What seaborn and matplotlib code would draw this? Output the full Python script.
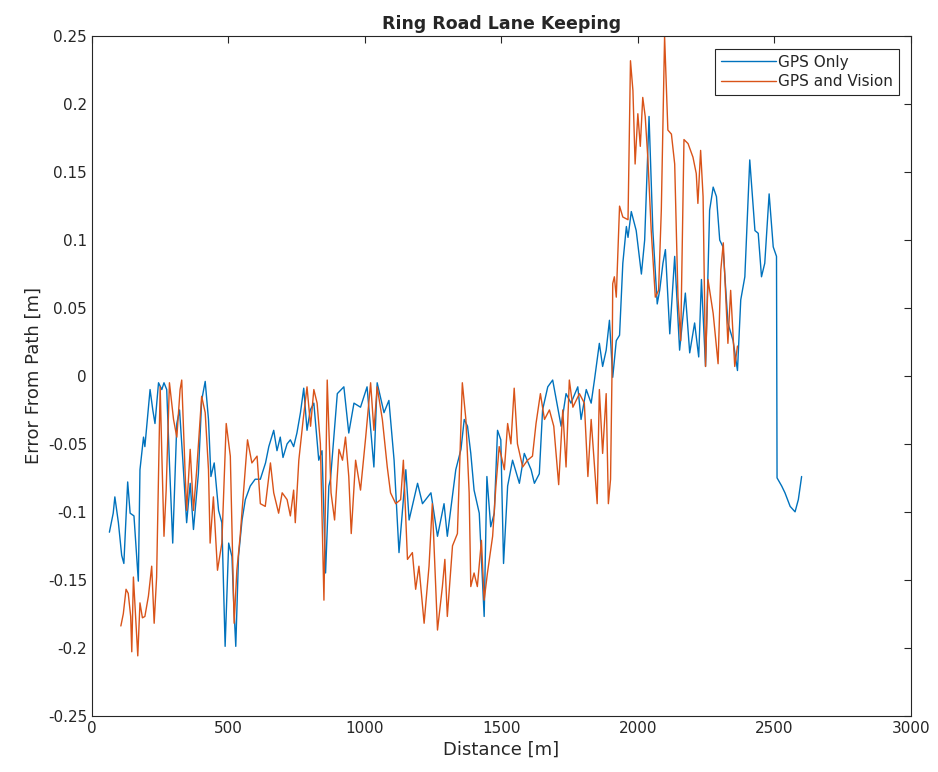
import matplotlib
matplotlib.use("Agg")
from matplotlib import pyplot as plt
import pandas as pd
import numpy as np
import seaborn as sns

# values
gps_x = [64, 78, 84, 97, 109, 117, 131, 140, 154, 170, 176, 189, 194, 213, 223, 231, 244, 256, 264, 274,
         284, 296, 311, 321, 333, 347, 360, 372, 390, 402, 415, 427, 436, 448, 464, 476, 488, 501, 513, 519,
         527, 537, 550, 562, 580, 598, 617, 636, 648, 666, 678, 690, 700, 715, 727, 739, 751, 764, 776, 788,
         800, 813, 831, 843, 856, 868, 874, 899, 923, 941, 960, 984, 1008, 1033, 1045, 1070, 1088, 1107, 1125, 1150,
         1162, 1193, 1211, 1242, 1266, 1290, 1302, 1333, 1352, 1364, 1376, 1388, 1400, 1419, 1437, 1447, 1461, 1474, 1486, 1498,
         1508, 1523, 1541, 1566, 1584, 1609, 1621, 1639, 1651, 1670, 1688, 1706, 1719, 1737, 1755, 1780, 1792, 1811, 1829, 1841,
         1859, 1871, 1884, 1896, 1908, 1921, 1933, 1945, 1958, 1964, 1976, 1994, 2013, 2025, 2041, 2055, 2071, 2080, 2092, 2101,
         2117, 2135, 2153, 2174, 2190, 2208, 2223, 2233, 2248, 2263, 2276, 2288, 2300, 2312, 2330, 2349, 2365, 2377, 2392, 2410,
         2429, 2441, 2453, 2465, 2481, 2496, 2508, 2510, 2527, 2539, 2558, 2576, 2588, 2600]
gps_y = [-0.115, -0.101, -0.089, -0.108, -0.132, -0.138, -0.078, -0.101, -0.103, -0.151, -0.069, -0.045, -0.052, -0.010, -0.025, -0.035, -0.005, -0.010, -0.005, -0.010,
         -0.064, -0.123, -0.035, -0.025, -0.062, -0.108, -0.079, -0.113, -0.072, -0.018, -0.004, -0.032, -0.074, -0.064, -0.099, -0.108, -0.199, -0.123, -0.133, -0.165,
         -0.199, -0.133, -0.106, -0.091, -0.081, -0.076, -0.076, -0.064, -0.052, -0.040, -0.055, -0.045, -0.060, -0.050, -0.047, -0.052, -0.042, -0.027, -0.009, -0.040,
         -0.025, -0.020, -0.062, -0.055, -0.145, -0.081, -0.076, -0.013, -0.008, -0.042, -0.020, -0.023, -0.008, -0.067, -0.005, -0.027, -0.018, -0.062, -0.130, -0.069,
         -0.106, -0.079, -0.094, -0.086, -0.118, -0.094, -0.118, -0.069, -0.054, -0.032, -0.037, -0.057, -0.084, -0.101, -0.177, -0.074, -0.111, -0.101, -0.040, -0.047,
         -0.138, -0.081, -0.062, -0.079, -0.057, -0.069, -0.079, -0.072, -0.025, -0.008, -0.003, -0.023, -0.037, -0.013, -0.020, -0.008, -0.032, -0.010, -0.020, -0.003,
         0.024, 0.007, 0.019, 0.041, -0.001, 0.026, 0.030, 0.083, 0.110, 0.102, 0.121, 0.107, 0.075, 0.100, 0.191, 0.107, 0.053, 0.063, 0.083, 0.093,
         0.031, 0.088, 0.019, 0.061, 0.017, 0.039, 0.014, 0.071, 0.007, 0.122, 0.139, 0.132, 0.100, 0.095, 0.039, 0.026, 0.004, 0.056, 0.073, 0.159,
         0.107, 0.105, 0.073, 0.083, 0.134, 0.095, 0.088, -0.075, -0.081, -0.086, -0.096, -0.100, -0.091, -0.074]

vision_x = [106, 115, 125, 133, 142, 146, 152, 168, 176, 185, 194, 207, 219, 228, 237, 250, 256, 264, 272, 284,
            299, 311, 323, 329, 341, 347, 360, 372, 384, 402, 415, 427, 433, 445, 460, 476, 492, 507, 521, 531,
            543, 556, 570, 586, 605, 617, 635, 654, 666, 684, 697, 715, 727, 739, 745, 758, 774, 788, 801, 813,
            825, 837, 850, 862, 876, 889, 905, 918, 929, 941, 950, 966, 984, 1003, 1021, 1033, 1045, 1064, 1082, 1094,
            1113, 1131, 1141, 1156, 1174, 1186, 1198, 1217, 1235, 1247, 1266, 1284, 1293, 1302, 1321, 1339, 1357, 1370, 1382, 1388,
            1400, 1412, 1427, 1437, 1449, 1468, 1480, 1492, 1511, 1523, 1535, 1547, 1559, 1578, 1596, 1614, 1627, 1643, 1658, 1676,
            1692, 1710, 1725, 1737, 1749, 1762, 1786, 1804, 1817, 1829, 1851, 1859, 1871, 1884, 1892, 1900, 1906, 1908, 1914, 1921,
            1933, 1945, 1964, 1973, 1982, 1990, 2000, 2009, 2018, 2027, 2037, 2049, 2064, 2076, 2086, 2098, 2110, 2123, 2135, 2147,
            2157, 2169, 2184, 2202, 2214, 2220, 2230, 2239, 2248, 2257, 2276, 2294, 2304, 2313, 2322, 2330, 2340, 2355, 2365]
vision_y = [-0.184, -0.175, -0.157, -0.160, -0.177, -0.203, -0.148, -0.206, -0.167, -0.178, -0.177, -0.162, -0.140, -0.182, -0.148, -0.008, -0.057, -0.118, -0.084, -0.005,
            -0.032, -0.045, -0.010, -0.003, -0.069, -0.099, -0.054, -0.099, -0.069, -0.015, -0.027, -0.069, -0.123, -0.089, -0.143, -0.123, -0.035, -0.059, -0.182, -0.143,
            -0.118, -0.084, -0.047, -0.064, -0.059, -0.094, -0.096, -0.064, -0.086, -0.101, -0.086, -0.091, -0.103, -0.084, -0.108, -0.062, -0.032, -0.008, -0.037, -0.010,
            -0.020, -0.050, -0.165, -0.003, -0.086, -0.106, -0.054, -0.062, -0.045, -0.074, -0.116, -0.062, -0.084, -0.045, -0.005, -0.040, -0.008, -0.032, -0.067, -0.086,
            -0.094, -0.091, -0.062, -0.135, -0.130, -0.157, -0.140, -0.182, -0.140, -0.094, -0.187, -0.155, -0.135, -0.177, -0.125, -0.116, -0.005, -0.032, -0.086, -0.155,
            -0.145, -0.155, -0.121, -0.165, -0.145, -0.118, -0.081, -0.052, -0.069, -0.035, -0.050, -0.009, -0.050, -0.067, -0.062, -0.059, -0.035, -0.013, -0.032, -0.025,
            -0.037, -0.080, -0.025, -0.067, -0.003, -0.023, -0.013, -0.020, -0.074, -0.032, -0.094, -0.010, -0.057, -0.013, -0.094, -0.076, 0.012, 0.068, 0.073, 0.058,
            0.125, 0.117, 0.115, 0.232, 0.210, 0.156, 0.193, 0.169, 0.205, 0.191, 0.159, 0.107, 0.058, 0.063, 0.122, 0.250, 0.181, 0.178, 0.156, 0.058,
            0.026, 0.174, 0.171, 0.161, 0.149, 0.127, 0.166, 0.132, 0.007, 0.071, 0.046, 0.009, 0.078, 0.098, 0.058, 0.024, 0.063, 0.007, 0.022]

series_names = ["GPS Only", "GPS and Vision"]
x_ticks = [0, 500, 1000, 1500, 2000, 2500, 3000]
y_ticks = [-0.25, -0.2, -0.15, -0.1, -0.05, 0, 0.05, 0.1, 0.15, 0.2, 0.25]
y_tick_labels = ["-0.25", "-0.2", "-0.15", "-0.1", "-0.05", "0", "0.05", "0.1", "0.15", "0.2", "0.25"]

df = pd.concat([
    pd.DataFrame({"Distance": gps_x, "Error": gps_y, "Series": series_names[0]}),
    pd.DataFrame({"Distance": vision_x, "Error": vision_y, "Series": series_names[1]}),
])

sns.set_style("white")
plt.rcParams['font.family'] = ['DejaVu Sans']

fig = plt.figure(figsize=(9.38, 7.72), dpi=100)
ax = fig.add_axes([0.098, 0.073, 0.873, 0.880])

sns.lineplot(data=df, x="Distance", y="Error", hue="Series", sort=False,
             palette={"GPS Only": "#0072BD", "GPS and Vision": "#D95319"},
             linewidth=1.0, ax=ax, estimator=None)

ax.set_xlim(0, 3000)
ax.set_ylim(-0.25, 0.25)
ax.set_xticks(x_ticks)
ax.set_yticks(y_ticks)
ax.set_yticklabels(y_tick_labels)
ax.tick_params(direction='in', top=True, right=True, labelsize=11, length=5,
               colors='#262626', labelcolor='#262626')
for s in ax.spines.values():
    s.set_color('#262626')
    s.set_linewidth(0.8)

ax.set_xlabel("Distance [m]", fontsize=13, color='#262626')
ax.set_ylabel("Error From Path [m]", fontsize=13, color='#262626')
ax.set_title("Ring Road Lane Keeping", fontsize=12.5, fontweight='bold', pad=5)

# legend box like matlab: square corners, thin dark edge
leg = ax.legend(loc='upper right', fontsize=11, handlelength=3.6, fancybox=False,
                framealpha=1, edgecolor='#262626', borderaxespad=0.8,
                borderpad=0.4, labelspacing=0.3, handletextpad=0.1)
leg.get_frame().set_linewidth(0.8)

fig.savefig("out.png", dpi=100)
